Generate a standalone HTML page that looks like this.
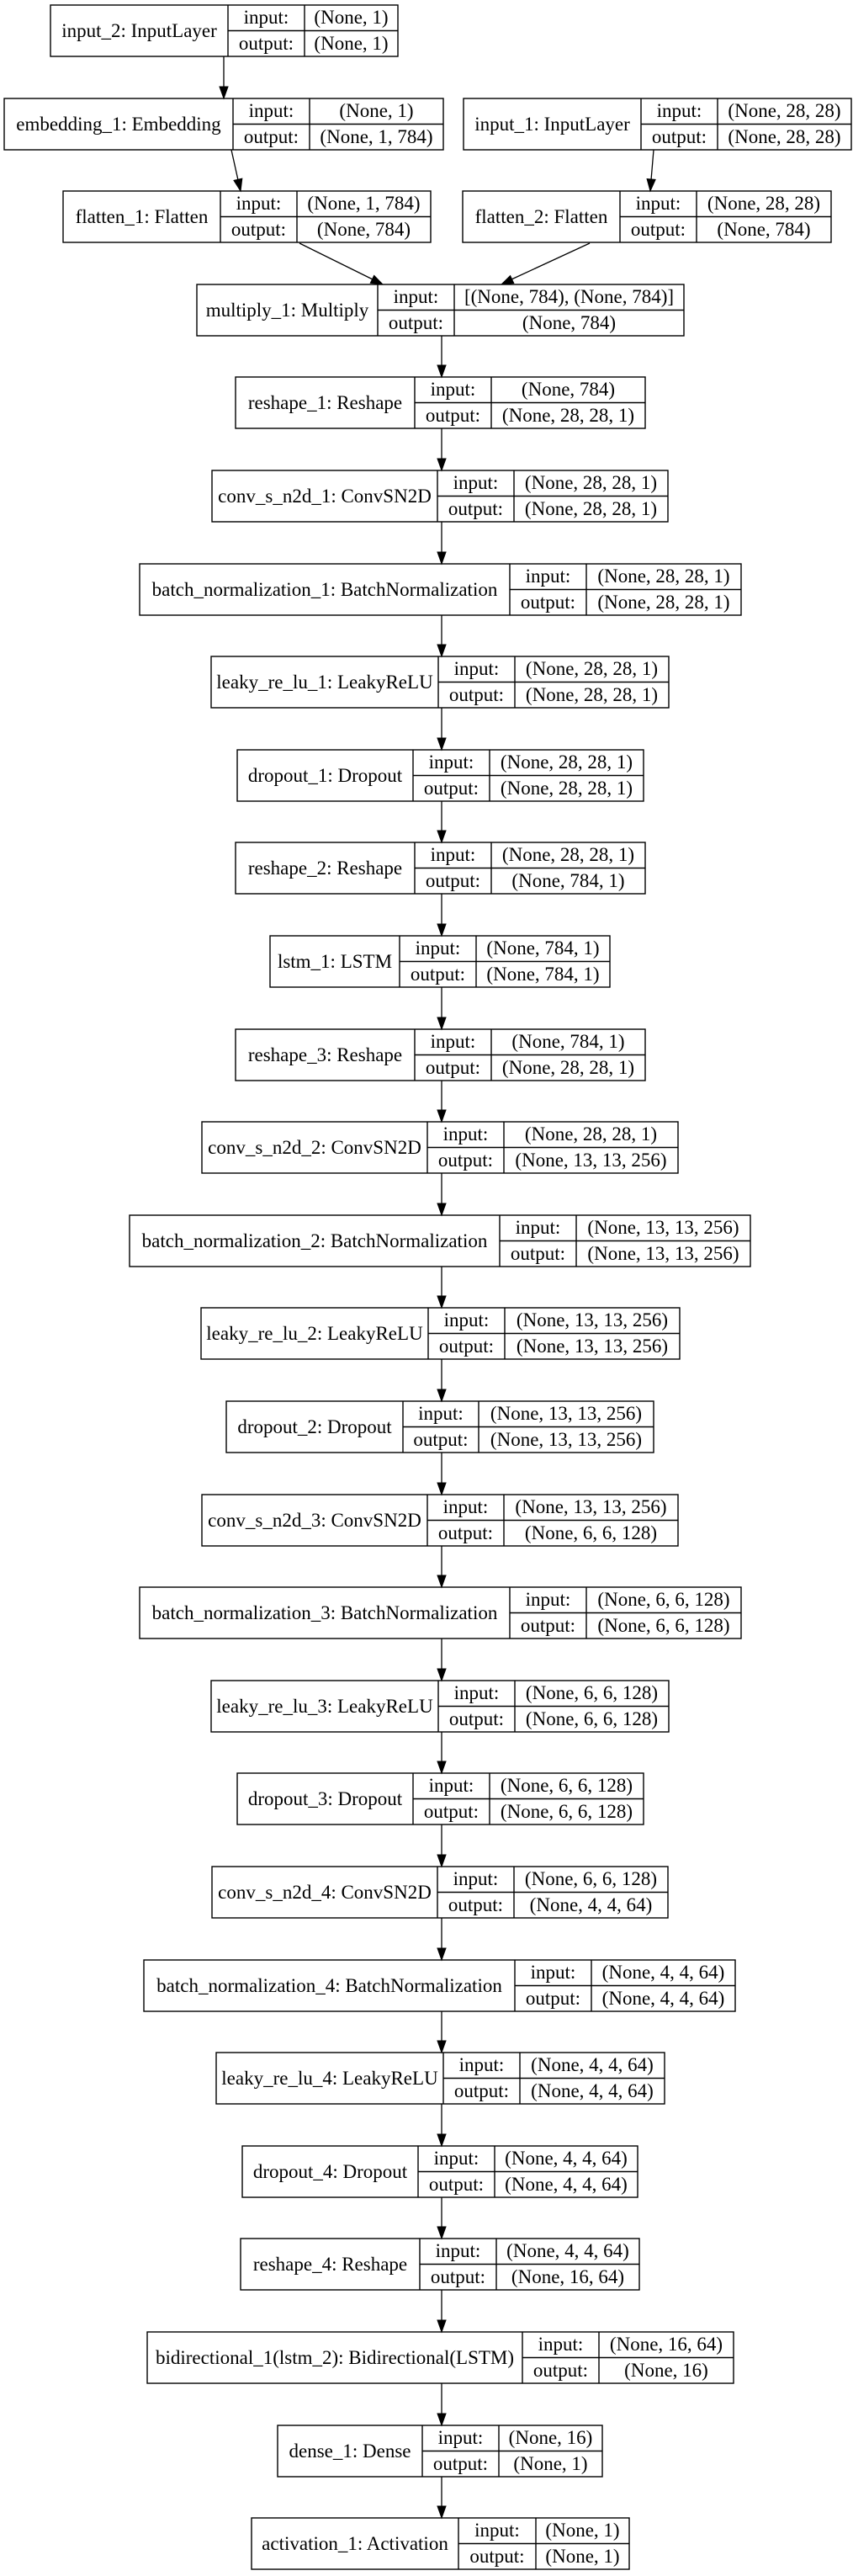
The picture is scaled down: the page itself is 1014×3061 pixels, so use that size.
<!DOCTYPE html>
<html><head><meta charset="utf-8"><style>
html,body{margin:0;padding:0;background:#fff}
svg{display:block}
text{font-family:"Liberation Serif",serif;font-size:23px;fill:#000;text-anchor:middle}
rect,line.d{fill:none;stroke:#000;stroke-width:1.4}
line.e{stroke:#000;stroke-width:1.3}
polygon{fill:#000;stroke:#000;stroke-width:1}
</style></head><body>
<svg width="1014" height="3061" viewBox="0 0 1014 3061" xmlns="http://www.w3.org/2000/svg">
<g>
<rect x="60" y="6" width="413" height="61"/><line class="d" x1="271" y1="6" x2="271" y2="67"/><line class="d" x1="362" y1="6" x2="362" y2="67"/><line class="d" x1="271" y1="36.5" x2="473" y2="36.5"/>
<text x="165.5" y="44">input_2: InputLayer</text><text x="316.5" y="28">input:</text><text x="316.5" y="59">output:</text><text x="417.5" y="28">(None, 1)</text><text x="417.5" y="59">(None, 1)</text>
</g>
<g>
<rect x="5" y="117" width="522" height="61"/><line class="d" x1="277" y1="117" x2="277" y2="178"/><line class="d" x1="368" y1="117" x2="368" y2="178"/><line class="d" x1="277" y1="147.5" x2="527" y2="147.5"/>
<text x="141" y="155">embedding_1: Embedding</text><text x="322.5" y="139">input:</text><text x="322.5" y="170">output:</text><text x="447.5" y="139">(None, 1)</text><text x="447.5" y="170">(None, 1, 784)</text>
</g>
<g>
<rect x="551" y="117" width="461" height="61"/><line class="d" x1="762" y1="117" x2="762" y2="178"/><line class="d" x1="853" y1="117" x2="853" y2="178"/><line class="d" x1="762" y1="147.5" x2="1012" y2="147.5"/>
<text x="656.5" y="155">input_1: InputLayer</text><text x="807.5" y="139">input:</text><text x="807.5" y="170">output:</text><text x="932.5" y="139">(None, 28, 28)</text><text x="932.5" y="170">(None, 28, 28)</text>
</g>
<g>
<rect x="75" y="227" width="437" height="61"/><line class="d" x1="262" y1="227" x2="262" y2="288"/><line class="d" x1="353" y1="227" x2="353" y2="288"/><line class="d" x1="262" y1="257.5" x2="512" y2="257.5"/>
<text x="168.5" y="265">flatten_1: Flatten</text><text x="307.5" y="249">input:</text><text x="307.5" y="280">output:</text><text x="432.5" y="249">(None, 1, 784)</text><text x="432.5" y="280">(None, 784)</text>
</g>
<g>
<rect x="550" y="227" width="438" height="61"/><line class="d" x1="737" y1="227" x2="737" y2="288"/><line class="d" x1="828" y1="227" x2="828" y2="288"/><line class="d" x1="737" y1="257.5" x2="988" y2="257.5"/>
<text x="643.5" y="265">flatten_2: Flatten</text><text x="782.5" y="249">input:</text><text x="782.5" y="280">output:</text><text x="908" y="249">(None, 28, 28)</text><text x="908" y="280">(None, 784)</text>
</g>
<g>
<rect x="234" y="338" width="579" height="61"/><line class="d" x1="449" y1="338" x2="449" y2="399"/><line class="d" x1="540" y1="338" x2="540" y2="399"/><line class="d" x1="449" y1="368.5" x2="813" y2="368.5"/>
<text x="341.5" y="376">multiply_1: Multiply</text><text x="494.5" y="360">input:</text><text x="494.5" y="391">output:</text><text x="676.5" y="360">[(None, 784), (None, 784)]</text><text x="676.5" y="391">(None, 784)</text>
</g>

<line class="e" x1="266" y1="67" x2="266" y2="104"/><polygon points="261,103 271,103 266,117"/>
<line class="e" x1="275" y1="178" x2="283" y2="214"/><polygon points="278,214.4 287.8,212.2 286,227"/>
<line class="e" x1="777" y1="178" x2="774" y2="214"/><polygon points="779.1,213.4 769.1,212.6 773,227"/>
<line class="e" x1="356" y1="289" x2="443" y2="332"/><polygon points="440.3,336.3 444.7,327.3 455,338"/>
<line class="e" x1="701" y1="289" x2="608" y2="332"/><polygon points="610.8,336.6 606.6,327.6 596,338"/>

<g id="arrows">
<line class="e" x1="525" y1="399" x2="525" y2="436"/><polygon points="520,434 530,434 525,448"/>
<line class="e" x1="525" y1="509" x2="525" y2="547"/><polygon points="520,545 530,545 525,559"/>
<line class="e" x1="525" y1="620" x2="525" y2="658"/><polygon points="520,656 530,656 525,670"/>
<line class="e" x1="525" y1="731" x2="525" y2="768"/><polygon points="520,766 530,766 525,780"/>
<line class="e" x1="525" y1="841" x2="525" y2="879"/><polygon points="520,877 530,877 525,891"/>
<line class="e" x1="525" y1="952" x2="525" y2="989"/><polygon points="520,987 530,987 525,1001"/>
<line class="e" x1="525" y1="1062" x2="525" y2="1100"/><polygon points="520,1098 530,1098 525,1112"/>
<line class="e" x1="525" y1="1173" x2="525" y2="1211"/><polygon points="520,1209 530,1209 525,1223"/>
<line class="e" x1="525" y1="1284" x2="525" y2="1321"/><polygon points="520,1319 530,1319 525,1333"/>
<line class="e" x1="525" y1="1394" x2="525" y2="1432"/><polygon points="520,1430 530,1430 525,1444"/>
<line class="e" x1="525" y1="1505" x2="525" y2="1542"/><polygon points="520,1540 530,1540 525,1554"/>
<line class="e" x1="525" y1="1615" x2="525" y2="1653"/><polygon points="520,1651 530,1651 525,1665"/>
<line class="e" x1="525" y1="1726" x2="525" y2="1764"/><polygon points="520,1762 530,1762 525,1776"/>
<line class="e" x1="525" y1="1837" x2="525" y2="1874"/><polygon points="520,1872 530,1872 525,1886"/>
<line class="e" x1="525" y1="1947" x2="525" y2="1985"/><polygon points="520,1983 530,1983 525,1997"/>
<line class="e" x1="525" y1="2058" x2="525" y2="2095"/><polygon points="520,2093 530,2093 525,2107"/>
<line class="e" x1="525" y1="2168" x2="525" y2="2206"/><polygon points="520,2204 530,2204 525,2218"/>
<line class="e" x1="525" y1="2279" x2="525" y2="2317"/><polygon points="520,2315 530,2315 525,2329"/>
<line class="e" x1="525" y1="2390" x2="525" y2="2427"/><polygon points="520,2425 530,2425 525,2439"/>
<line class="e" x1="525" y1="2500" x2="525" y2="2538"/><polygon points="520,2536 530,2536 525,2550"/>
<line class="e" x1="525" y1="2611" x2="525" y2="2648"/><polygon points="520,2646 530,2646 525,2660"/>
<line class="e" x1="525" y1="2721" x2="525" y2="2759"/><polygon points="520,2757 530,2757 525,2771"/>
<line class="e" x1="525" y1="2832" x2="525" y2="2870"/><polygon points="520,2868 530,2868 525,2882"/>
<line class="e" x1="525" y1="2943" x2="525" y2="2980"/><polygon points="520,2978 530,2978 525,2992"/>
</g>

<g>
<rect x="280" y="448" width="487" height="61"/><line class="d" x1="493" y1="448" x2="493" y2="509"/><line class="d" x1="584" y1="448" x2="584" y2="509"/><line class="d" x1="493" y1="478.5" x2="767" y2="478.5"/>
<text x="386.5" y="486">reshape_1: Reshape</text><text x="538.5" y="470">input:</text><text x="538.5" y="501">output:</text><text x="675.5" y="470">(None, 784)</text><text x="675.5" y="501">(None, 28, 28, 1)</text>
</g>
<g>
<rect x="252" y="559" width="542" height="61"/><line class="d" x1="520" y1="559" x2="520" y2="620"/><line class="d" x1="611" y1="559" x2="611" y2="620"/><line class="d" x1="520" y1="589.5" x2="794" y2="589.5"/>
<text x="386" y="597">conv_s_n2d_1: ConvSN2D</text><text x="565.5" y="581">input:</text><text x="565.5" y="612">output:</text><text x="702.5" y="581">(None, 28, 28, 1)</text><text x="702.5" y="612">(None, 28, 28, 1)</text>
</g>
<g>
<rect x="166" y="670" width="715" height="61"/><line class="d" x1="606" y1="670" x2="606" y2="731"/><line class="d" x1="697" y1="670" x2="697" y2="731"/><line class="d" x1="606" y1="700.5" x2="881" y2="700.5"/>
<text x="386" y="708">batch_normalization_1: BatchNormalization</text><text x="651.5" y="692">input:</text><text x="651.5" y="723">output:</text><text x="789" y="692">(None, 28, 28, 1)</text><text x="789" y="723">(None, 28, 28, 1)</text>
</g>
<g>
<rect x="251" y="780" width="544" height="61"/><line class="d" x1="521" y1="780" x2="521" y2="841"/><line class="d" x1="612" y1="780" x2="612" y2="841"/><line class="d" x1="521" y1="810.5" x2="795" y2="810.5"/>
<text x="386" y="818">leaky_re_lu_1: LeakyReLU</text><text x="566.5" y="802">input:</text><text x="566.5" y="833">output:</text><text x="703.5" y="802">(None, 28, 28, 1)</text><text x="703.5" y="833">(None, 28, 28, 1)</text>
</g>
<g>
<rect x="282" y="891" width="483" height="61"/><line class="d" x1="491" y1="891" x2="491" y2="952"/><line class="d" x1="582" y1="891" x2="582" y2="952"/><line class="d" x1="491" y1="921.5" x2="765" y2="921.5"/>
<text x="386.5" y="929">dropout_1: Dropout</text><text x="536.5" y="913">input:</text><text x="536.5" y="944">output:</text><text x="673.5" y="913">(None, 28, 28, 1)</text><text x="673.5" y="944">(None, 28, 28, 1)</text>
</g>
<g>
<rect x="280" y="1001" width="487" height="61"/><line class="d" x1="493" y1="1001" x2="493" y2="1062"/><line class="d" x1="584" y1="1001" x2="584" y2="1062"/><line class="d" x1="493" y1="1031.5" x2="767" y2="1031.5"/>
<text x="386.5" y="1039">reshape_2: Reshape</text><text x="538.5" y="1023">input:</text><text x="538.5" y="1054">output:</text><text x="675.5" y="1023">(None, 28, 28, 1)</text><text x="675.5" y="1054">(None, 784, 1)</text>
</g>
<g>
<rect x="321" y="1112" width="404" height="61"/><line class="d" x1="475" y1="1112" x2="475" y2="1173"/><line class="d" x1="566" y1="1112" x2="566" y2="1173"/><line class="d" x1="475" y1="1142.5" x2="725" y2="1142.5"/>
<text x="398" y="1150">lstm_1: LSTM</text><text x="520.5" y="1134">input:</text><text x="520.5" y="1165">output:</text><text x="645.5" y="1134">(None, 784, 1)</text><text x="645.5" y="1165">(None, 784, 1)</text>
</g>
<g>
<rect x="280" y="1223" width="487" height="61"/><line class="d" x1="493" y1="1223" x2="493" y2="1284"/><line class="d" x1="584" y1="1223" x2="584" y2="1284"/><line class="d" x1="493" y1="1253.5" x2="767" y2="1253.5"/>
<text x="386.5" y="1261">reshape_3: Reshape</text><text x="538.5" y="1245">input:</text><text x="538.5" y="1276">output:</text><text x="675.5" y="1245">(None, 784, 1)</text><text x="675.5" y="1276">(None, 28, 28, 1)</text>
</g>
<g>
<rect x="240" y="1333" width="566" height="61"/><line class="d" x1="508" y1="1333" x2="508" y2="1394"/><line class="d" x1="599" y1="1333" x2="599" y2="1394"/><line class="d" x1="508" y1="1363.5" x2="806" y2="1363.5"/>
<text x="374" y="1371">conv_s_n2d_2: ConvSN2D</text><text x="553.5" y="1355">input:</text><text x="553.5" y="1386">output:</text><text x="702.5" y="1355">(None, 28, 28, 1)</text><text x="702.5" y="1386">(None, 13, 13, 256)</text>
</g>
<g>
<rect x="154" y="1444" width="738" height="61"/><line class="d" x1="594" y1="1444" x2="594" y2="1505"/><line class="d" x1="685" y1="1444" x2="685" y2="1505"/><line class="d" x1="594" y1="1474.5" x2="892" y2="1474.5"/>
<text x="374" y="1482">batch_normalization_2: BatchNormalization</text><text x="639.5" y="1466">input:</text><text x="639.5" y="1497">output:</text><text x="788.5" y="1466">(None, 13, 13, 256)</text><text x="788.5" y="1497">(None, 13, 13, 256)</text>
</g>
<g>
<rect x="239" y="1554" width="569" height="61"/><line class="d" x1="509" y1="1554" x2="509" y2="1615"/><line class="d" x1="600" y1="1554" x2="600" y2="1615"/><line class="d" x1="509" y1="1584.5" x2="808" y2="1584.5"/>
<text x="374" y="1592">leaky_re_lu_2: LeakyReLU</text><text x="554.5" y="1576">input:</text><text x="554.5" y="1607">output:</text><text x="704" y="1576">(None, 13, 13, 256)</text><text x="704" y="1607">(None, 13, 13, 256)</text>
</g>
<g>
<rect x="269" y="1665" width="508" height="61"/><line class="d" x1="479" y1="1665" x2="479" y2="1726"/><line class="d" x1="569" y1="1665" x2="569" y2="1726"/><line class="d" x1="479" y1="1695.5" x2="777" y2="1695.5"/>
<text x="374" y="1703">dropout_2: Dropout</text><text x="524" y="1687">input:</text><text x="524" y="1718">output:</text><text x="673" y="1687">(None, 13, 13, 256)</text><text x="673" y="1718">(None, 13, 13, 256)</text>
</g>
<g>
<rect x="240" y="1776" width="566" height="61"/><line class="d" x1="508" y1="1776" x2="508" y2="1837"/><line class="d" x1="599" y1="1776" x2="599" y2="1837"/><line class="d" x1="508" y1="1806.5" x2="806" y2="1806.5"/>
<text x="374" y="1814">conv_s_n2d_3: ConvSN2D</text><text x="553.5" y="1798">input:</text><text x="553.5" y="1829">output:</text><text x="702.5" y="1798">(None, 13, 13, 256)</text><text x="702.5" y="1829">(None, 6, 6, 128)</text>
</g>
<g>
<rect x="166" y="1886" width="715" height="61"/><line class="d" x1="606" y1="1886" x2="606" y2="1947"/><line class="d" x1="697" y1="1886" x2="697" y2="1947"/><line class="d" x1="606" y1="1916.5" x2="881" y2="1916.5"/>
<text x="386" y="1924">batch_normalization_3: BatchNormalization</text><text x="651.5" y="1908">input:</text><text x="651.5" y="1939">output:</text><text x="789" y="1908">(None, 6, 6, 128)</text><text x="789" y="1939">(None, 6, 6, 128)</text>
</g>
<g>
<rect x="251" y="1997" width="544" height="61"/><line class="d" x1="521" y1="1997" x2="521" y2="2058"/><line class="d" x1="612" y1="1997" x2="612" y2="2058"/><line class="d" x1="521" y1="2027.5" x2="795" y2="2027.5"/>
<text x="386" y="2035">leaky_re_lu_3: LeakyReLU</text><text x="566.5" y="2019">input:</text><text x="566.5" y="2050">output:</text><text x="703.5" y="2019">(None, 6, 6, 128)</text><text x="703.5" y="2050">(None, 6, 6, 128)</text>
</g>
<g>
<rect x="282" y="2107" width="483" height="61"/><line class="d" x1="491" y1="2107" x2="491" y2="2168"/><line class="d" x1="582" y1="2107" x2="582" y2="2168"/><line class="d" x1="491" y1="2137.5" x2="765" y2="2137.5"/>
<text x="386.5" y="2145">dropout_3: Dropout</text><text x="536.5" y="2129">input:</text><text x="536.5" y="2160">output:</text><text x="673.5" y="2129">(None, 6, 6, 128)</text><text x="673.5" y="2160">(None, 6, 6, 128)</text>
</g>
<g>
<rect x="252" y="2218" width="542" height="61"/><line class="d" x1="520" y1="2218" x2="520" y2="2279"/><line class="d" x1="611" y1="2218" x2="611" y2="2279"/><line class="d" x1="520" y1="2248.5" x2="794" y2="2248.5"/>
<text x="386" y="2256">conv_s_n2d_4: ConvSN2D</text><text x="565.5" y="2240">input:</text><text x="565.5" y="2271">output:</text><text x="702.5" y="2240">(None, 6, 6, 128)</text><text x="702.5" y="2271">(None, 4, 4, 64)</text>
</g>
<g>
<rect x="171" y="2329" width="703" height="61"/><line class="d" x1="612" y1="2329" x2="612" y2="2390"/><line class="d" x1="703" y1="2329" x2="703" y2="2390"/><line class="d" x1="612" y1="2359.5" x2="874" y2="2359.5"/>
<text x="391.5" y="2367">batch_normalization_4: BatchNormalization</text><text x="657.5" y="2351">input:</text><text x="657.5" y="2382">output:</text><text x="788.5" y="2351">(None, 4, 4, 64)</text><text x="788.5" y="2382">(None, 4, 4, 64)</text>
</g>
<g>
<rect x="257" y="2439" width="533" height="61"/><line class="d" x1="527" y1="2439" x2="527" y2="2500"/><line class="d" x1="618" y1="2439" x2="618" y2="2500"/><line class="d" x1="527" y1="2469.5" x2="790" y2="2469.5"/>
<text x="392" y="2477">leaky_re_lu_4: LeakyReLU</text><text x="572.5" y="2461">input:</text><text x="572.5" y="2492">output:</text><text x="704" y="2461">(None, 4, 4, 64)</text><text x="704" y="2492">(None, 4, 4, 64)</text>
</g>
<g>
<rect x="288" y="2550" width="470" height="61"/><line class="d" x1="497" y1="2550" x2="497" y2="2611"/><line class="d" x1="588" y1="2550" x2="588" y2="2611"/><line class="d" x1="497" y1="2580.5" x2="758" y2="2580.5"/>
<text x="392.5" y="2588">dropout_4: Dropout</text><text x="542.5" y="2572">input:</text><text x="542.5" y="2603">output:</text><text x="673" y="2572">(None, 4, 4, 64)</text><text x="673" y="2603">(None, 4, 4, 64)</text>
</g>
<g>
<rect x="286" y="2660" width="474" height="61"/><line class="d" x1="499" y1="2660" x2="499" y2="2721"/><line class="d" x1="590" y1="2660" x2="590" y2="2721"/><line class="d" x1="499" y1="2690.5" x2="760" y2="2690.5"/>
<text x="392.5" y="2698">reshape_4: Reshape</text><text x="544.5" y="2682">input:</text><text x="544.5" y="2713">output:</text><text x="675" y="2682">(None, 4, 4, 64)</text><text x="675" y="2713">(None, 16, 64)</text>
</g>
<g>
<rect x="175" y="2771" width="697" height="61"/><line class="d" x1="621" y1="2771" x2="621" y2="2832"/><line class="d" x1="712" y1="2771" x2="712" y2="2832"/><line class="d" x1="621" y1="2801.5" x2="872" y2="2801.5"/>
<text x="398" y="2809">bidirectional_1(lstm_2): Bidirectional(LSTM)</text><text x="666.5" y="2793">input:</text><text x="666.5" y="2824">output:</text><text x="792" y="2793">(None, 16, 64)</text><text x="792" y="2824">(None, 16)</text>
</g>
<g>
<rect x="330" y="2882" width="386" height="61"/><line class="d" x1="502" y1="2882" x2="502" y2="2943"/><line class="d" x1="593" y1="2882" x2="593" y2="2943"/><line class="d" x1="502" y1="2912.5" x2="716" y2="2912.5"/>
<text x="416" y="2920">dense_1: Dense</text><text x="547.5" y="2904">input:</text><text x="547.5" y="2935">output:</text><text x="654.5" y="2904">(None, 16)</text><text x="654.5" y="2935">(None, 1)</text>
</g>
<g>
<rect x="299" y="2992" width="449" height="61"/><line class="d" x1="545" y1="2992" x2="545" y2="3053"/><line class="d" x1="637" y1="2992" x2="637" y2="3053"/><line class="d" x1="545" y1="3022.5" x2="748" y2="3022.5"/>
<text x="422" y="3030">activation_1: Activation</text><text x="591" y="3014">input:</text><text x="591" y="3045">output:</text><text x="692.5" y="3014">(None, 1)</text><text x="692.5" y="3045">(None, 1)</text>
</g>
</svg>
</body></html>
